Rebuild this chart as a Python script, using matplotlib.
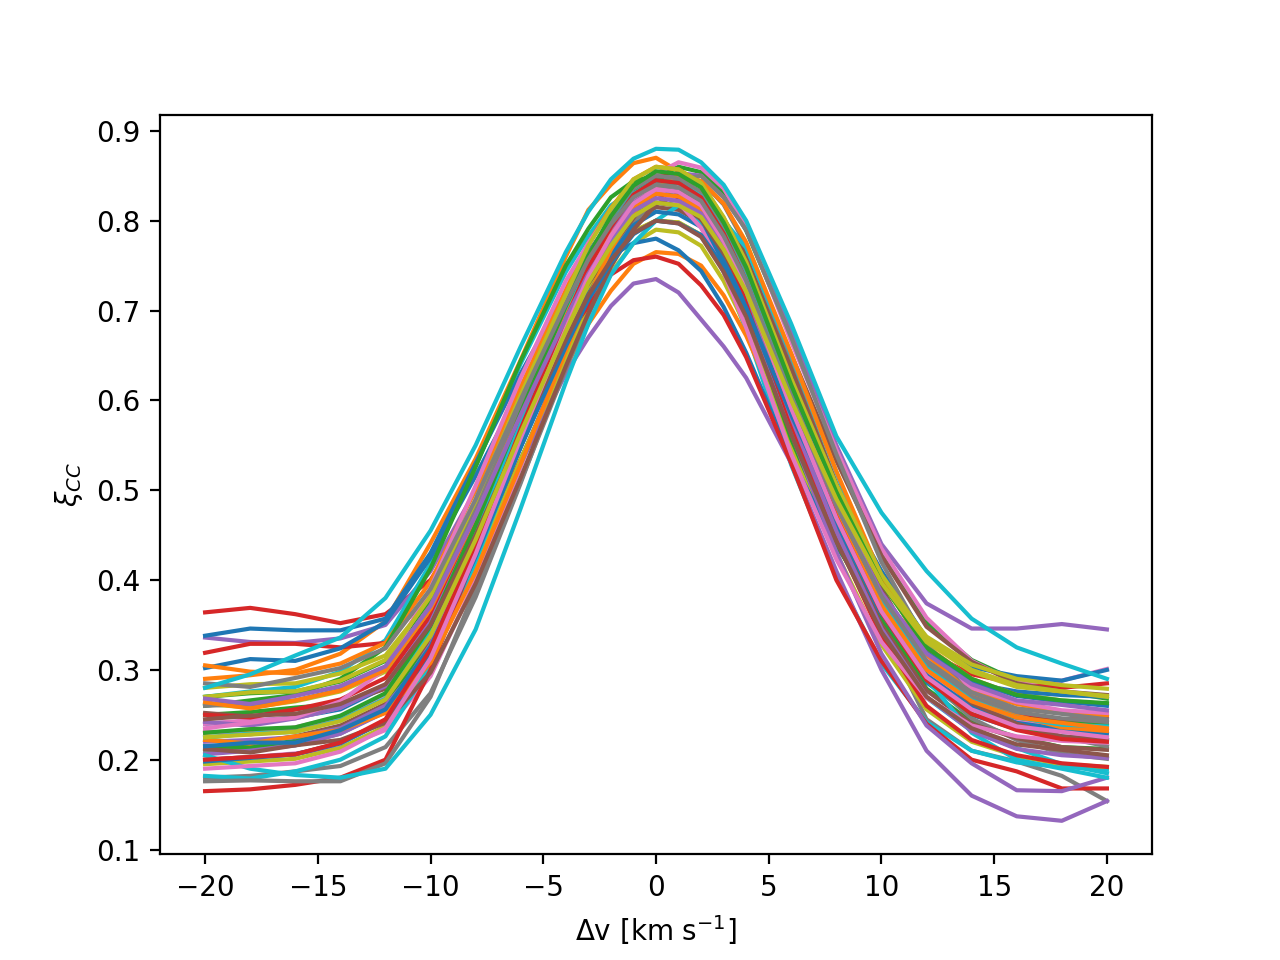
import matplotlib
matplotlib.use("Agg")
import matplotlib.pyplot as plt

# velocity grid [km/s]
dv = [-20, -18, -16, -14, -12, -10, -8, -6, -4, -3, -2, -1, 0, 1, 2, 3, 4, 6, 8, 10, 12, 14, 16, 18, 20]

# cross-correlation curves (one list per curve)
curves = [
    [.240, .243, .247, .256, .281, .350, .455, .571, .681, .734, .774, .806, .820, .817, .802, .763, .712, .580, .460, .358, .286, .250, .234, .226, .222],
    [.290, .294, .300, .318, .354, .441, .535, .645, .760, .812, .840, .864, .870, .855, .827, .777, .715, .572, .455, .362, .300, .270, .257, .252, .250],
    [.250, .253, .258, .262, .281, .335, .433, .549, .671, .729, .781, .820, .848, .860, .854, .831, .789, .671, .547, .435, .353, .311, .288, .276, .268],
    [.364, .369, .362, .352, .362, .400, .480, .580, .690, .745, .790, .828, .850, .850, .840, .795, .740, .610, .480, .380, .320, .295, .285, .280, .285],
    [.336, .331, .330, .335, .350, .410, .500, .600, .700, .750, .790, .822, .840, .853, .850, .826, .790, .680, .550, .440, .374, .346, .346, .351, .345],
    [.222, .219, .226, .238, .262, .333, .440, .559, .672, .726, .767, .800, .815, .812, .798, .761, .712, .585, .470, .372, .303, .269, .253, .244, .241],
    [.200, .203, .207, .213, .233, .293, .400, .526, .659, .722, .779, .822, .852, .865, .859, .836, .794, .665, .545, .435, .358, .310, .285, .288, .301],
    [.210, .212, .216, .229, .254, .330, .443, .569, .689, .745, .790, .824, .840, .836, .821, .779, .725, .584, .456, .347, .245, .210, .198, .182, .154],
    [.262, .258, .265, .276, .298, .363, .460, .568, .670, .719, .757, .788, .800, .798, .784, .750, .703, .584, .476, .384, .319, .287, .273, .266, .262],
    [.270, .276, .281, .298, .333, .418, .527, .641, .743, .783, .817, .834, .840, .824, .794, .743, .678, .528, .405, .307, .242, .210, .197, .192, .189],
    [.338, .346, .344, .344, .357, .430, .530, .630, .720, .765, .800, .822, .830, .827, .810, .776, .730, .610, .500, .410, .335, .303, .293, .288, .300],
    [.230, .233, .235, .246, .267, .332, .428, .535, .637, .685, .722, .752, .765, .763, .750, .717, .672, .559, .456, .368, .307, .276, .262, .254, .248],
    [.215, .214, .221, .233, .258, .334, .446, .571, .690, .746, .790, .824, .840, .836, .821, .780, .727, .588, .462, .355, .279, .242, .225, .214, .212],
    [.319, .329, .329, .325, .330, .385, .470, .580, .690, .740, .780, .814, .830, .826, .810, .771, .720, .590, .470, .370, .300, .265, .250, .245, .245],
    [.220, .222, .225, .235, .260, .320, .420, .530, .630, .670, .705, .730, .735, .720, .690, .660, .625, .530, .410, .300, .210, .160, .137, .132, .154],
    [.252, .248, .256, .262, .279, .331, .424, .534, .650, .705, .755, .792, .818, .830, .824, .802, .763, .651, .533, .427, .348, .309, .285, .276, .272],
    [.240, .244, .246, .258, .283, .356, .466, .588, .704, .759, .801, .835, .850, .846, .831, .791, .738, .602, .478, .373, .298, .261, .244, .238, .233],
    [.180, .182, .187, .193, .214, .274, .381, .508, .642, .706, .763, .806, .837, .850, .844, .818, .772, .642, .506, .382, .291, .246, .222, .207, .201],
    [.195, .198, .201, .213, .237, .308, .415, .534, .647, .701, .742, .775, .790, .787, .772, .733, .682, .550, .430, .328, .256, .220, .204, .195, .192],
    [.182, .179, .187, .200, .226, .304, .421, .551, .674, .732, .778, .813, .830, .826, .811, .770, .717, .578, .452, .345, .269, .232, .213, .195, .185],
    [.302, .312, .310, .324, .353, .425, .516, .612, .698, .732, .761, .775, .780, .767, .744, .704, .653, .535, .438, .362, .311, .285, .276, .272, .270],
    [.305, .298, .296, .307, .330, .398, .501, .615, .723, .775, .814, .846, .860, .857, .842, .803, .752, .620, .500, .398, .326, .290, .272, .264, .262],
    [.260, .266, .272, .290, .325, .413, .526, .644, .750, .791, .826, .844, .850, .835, .807, .759, .698, .557, .441, .350, .289, .258, .247, .241, .238],
    [.165, .167, .172, .180, .200, .300, .430, .560, .670, .705, .740, .756, .760, .752, .728, .695, .648, .530, .400, .310, .240, .200, .187, .168, .168],
    [.206, .210, .216, .229, .253, .328, .439, .563, .681, .736, .780, .814, .830, .826, .810, .766, .710, .564, .431, .318, .238, .196, .166, .165, .180],
    [.200, .203, .206, .219, .243, .318, .429, .553, .671, .726, .770, .804, .820, .817, .802, .762, .710, .576, .454, .350, .277, .240, .224, .214, .211],
    [.232, .228, .236, .248, .273, .346, .456, .578, .694, .748, .791, .825, .840, .837, .822, .784, .734, .604, .486, .386, .315, .280, .264, .255, .252],
    [.176, .177, .176, .176, .196, .270, .390, .510, .635, .695, .750, .795, .830, .845, .850, .826, .790, .670, .540, .420, .330, .270, .240, .225, .215],
    [.280, .284, .285, .296, .316, .379, .472, .576, .675, .722, .758, .788, .800, .798, .784, .751, .706, .592, .488, .400, .337, .306, .290, .283, .279],
    [.205, .190, .183, .180, .190, .250, .345, .480, .620, .685, .740, .775, .800, .817, .820, .800, .770, .650, .520, .390, .290, .230, .200, .190, .180],
    [.198, .202, .206, .218, .243, .316, .426, .548, .664, .718, .761, .795, .810, .807, .793, .755, .706, .578, .462, .363, .294, .259, .241, .234, .229],
    [.222, .218, .226, .233, .252, .308, .409, .529, .655, .715, .768, .809, .837, .850, .844, .819, .776, .652, .521, .404, .317, .273, .249, .236, .232],
    [.270, .274, .276, .287, .310, .379, .483, .598, .707, .759, .799, .831, .845, .842, .826, .786, .733, .595, .470, .364, .289, .251, .235, .224, .221],
    [.250, .247, .256, .267, .291, .360, .465, .581, .691, .743, .784, .816, .830, .826, .811, .769, .715, .574, .446, .337, .260, .222, .205, .196, .192],
    [.242, .238, .246, .258, .282, .353, .460, .579, .692, .745, .787, .820, .835, .832, .816, .775, .721, .581, .454, .346, .270, .232, .212, .205, .202],
    [.212, .208, .216, .222, .241, .297, .396, .514, .638, .697, .749, .790, .818, .830, .824, .800, .757, .635, .507, .391, .305, .263, .240, .226, .222],
    [.235, .241, .247, .265, .301, .391, .505, .625, .733, .775, .811, .829, .835, .820, .792, .743, .681, .540, .423, .331, .269, .238, .226, .221, .219],
    [.260, .262, .266, .278, .301, .372, .478, .596, .708, .762, .803, .836, .850, .847, .832, .792, .740, .606, .484, .380, .307, .270, .253, .246, .242],
    [.270, .275, .276, .288, .311, .382, .488, .606, .718, .772, .813, .846, .860, .857, .842, .804, .754, .624, .506, .406, .335, .300, .283, .276, .271],
    [.225, .229, .231, .244, .268, .343, .454, .578, .696, .752, .795, .830, .845, .842, .827, .787, .735, .601, .479, .375, .302, .266, .247, .239, .237],
    [.215, .219, .219, .233, .256, .326, .431, .548, .660, .712, .753, .785, .800, .797, .784, .749, .703, .584, .476, .384, .319, .287, .271, .265, .260],
    [.264, .257, .266, .277, .300, .368, .471, .585, .693, .745, .784, .816, .830, .827, .812, .773, .723, .592, .473, .372, .300, .265, .247, .241, .235],
    [.230, .234, .236, .249, .274, .349, .461, .586, .705, .761, .805, .839, .855, .852, .837, .798, .748, .617, .498, .397, .325, .290, .272, .266, .263],
    [.200, .203, .206, .219, .245, .323, .439, .568, .690, .748, .793, .829, .845, .842, .826, .786, .733, .595, .470, .364, .289, .251, .233, .223, .220],
    [.268, .262, .271, .282, .304, .371, .472, .584, .691, .741, .780, .811, .825, .822, .808, .771, .722, .597, .483, .386, .318, .284, .266, .261, .255],
    [.245, .249, .251, .262, .284, .350, .450, .561, .667, .717, .756, .786, .800, .797, .782, .743, .693, .562, .443, .342, .270, .235, .217, .211, .205],
    [.190, .193, .196, .209, .235, .313, .429, .558, .680, .738, .783, .819, .835, .832, .817, .777, .725, .591, .469, .365, .292, .256, .237, .231, .225],
    [.285, .281, .291, .302, .324, .390, .490, .601, .707, .757, .796, .826, .840, .837, .822, .783, .733, .602, .483, .382, .310, .275, .257, .251, .245],
    [.225, .228, .231, .243, .267, .338, .445, .564, .677, .731, .772, .805, .820, .817, .804, .768, .721, .600, .490, .397, .331, .298, .281, .276, .270],
    [.280, .295, .316, .336, .380, .455, .550, .660, .765, .810, .846, .869, .880, .879, .865, .840, .800, .685, .560, .475, .410, .357, .325, .307, .290],
]

fig, ax = plt.subplots(figsize=(6.4, 4.8), dpi=200)
for c in curves:
    ax.plot(dv, c)

ax.set_xlabel(r'Δv [km s$^{-1}$]')
ax.set_ylabel(r'$\xi_{CC}$')
ax.set_yticks([0.1, 0.2, 0.3, 0.4, 0.5, 0.6, 0.7, 0.8, 0.9])

fig.savefig('out.png', dpi=200)
